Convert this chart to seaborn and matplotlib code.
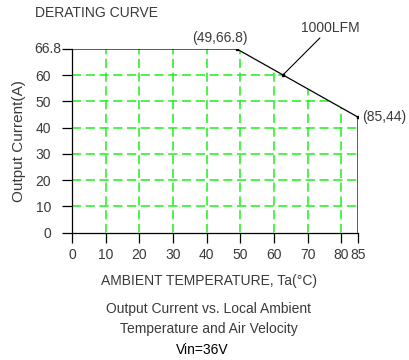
import numpy as np
import matplotlib
matplotlib.use("Agg")
import matplotlib.pyplot as plt
import seaborn as sns
from matplotlib.patches import Polygon

# --- data ---
temps = [0, 49, 85, 85]
currents = [66.8, 66.8, 44, 0]
x_ticks = [0, 10, 20, 30, 40, 50, 60, 70, 80, 85]
y_ticks = [0, 10, 20, 30, 40, 50, 60, 66.8]
grid_x = [10, 20, 30, 40, 50, 60, 70, 80]
grid_y = [10, 20, 30, 40, 50, 60]
airflow_label = "1000LFM"
airflow_temp = 62.7  # where the 1000LFM leader meets the curve

sns.set_style("ticks")
plt.rcParams['font.family'] = ['Liberation Sans', 'DejaVu Sans']

text_gray = "#3a3a3a"
fs = 10


# the chart stretches the band above 60 A (66.8 sits where 70 would be)
def fwd(y):
    y = np.asarray(y, dtype=float)
    return np.where(y <= 60, y, 60 + (y - 60) * 10 / 6.8)


def inv(y):
    y = np.asarray(y, dtype=float)
    return np.where(y <= 60, y, 60 + (y - 60) * 6.8 / 10)


fig = plt.figure(figsize=(4.09, 3.6), dpi=100)
ax = fig.add_axes([72 / 409, 1 - 232.5 / 360, 286 / 409, 183.5 / 360])
ax.set_yscale('function', functions=(fwd, inv))

# derating curve
sns.lineplot(x=temps, y=currents, sort=False, estimator=None, color="black",
             linewidth=0.9, ax=ax, zorder=3)

# green dashed grid, kept under the curve only
area = Polygon(list(zip([0] + temps, [0] + currents)), closed=True,
               transform=ax.transData, facecolor="none", edgecolor="none")
ax.add_patch(area)
vl = ax.vlines(grid_x, 0, 66.8, colors="#1cf01c", linestyles=(0, (6, 3)), linewidth=1.1, zorder=2)
hl = ax.hlines(grid_y, 0, 85, colors="#1cf01c", linestyles=(0, (6, 3)), linewidth=1.1, zorder=2)
vl.set_clip_path(area)
hl.set_clip_path(area)

# point on the slope where the airflow label points
ys0, ys1 = fwd(66.8), fwd(44)
pt_y = float(inv(ys0 + (ys1 - ys0) * (airflow_temp - 49) / 36))
ax.plot([49, airflow_temp, 85], [66.8, pt_y, 44], "s", color="black", markersize=2, zorder=4)

ax.annotate(airflow_label, xy=(airflow_temp, pt_y), xytext=(34, 29), textcoords="offset points",
            ha="center", va="bottom", fontsize=fs, color=text_gray,
            arrowprops=dict(arrowstyle="-", color="black", lw=0.8, shrinkA=0, shrinkB=0))
ax.annotate("(49,66.8)", xy=(49, 66.8), xytext=(-12, 3), textcoords="offset points",
            ha="center", va="bottom", fontsize=fs, color=text_gray)
ax.annotate("(85,44)", xy=(85, 44), xytext=(3, 0), textcoords="offset points",
            ha="left", va="center", fontsize=fs, color=text_gray)

ax.set_xlim(0, 85)
ax.set_ylim(0, 66.8)
ax.set_xticks(x_ticks)
ax.set_xticklabels([str(t) for t in x_ticks])
ax.set_yticks(y_ticks)
# the top label sits right against its tick in the original
ax.set_yticklabels(["0", "10", "20", "30", "40", "50", "60", ""])
ax.annotate("66.8", xy=(0, 66.8), xytext=(-8, 0), textcoords="offset points",
            ha="right", va="center", fontsize=fs, color=text_gray, annotation_clip=False)
ax.tick_params(direction="out", length=7, width=0.9, color="black",
               labelsize=fs, labelcolor=text_gray)
ax.tick_params(axis="y", pad=8)
ax.tick_params(axis="x", pad=4)

for side in ["top", "right"]:
    ax.spines[side].set_visible(False)
for side in ["left", "bottom"]:
    ax.spines[side].set_linewidth(0.9)
    ax.spines[side].set_color("black")

ax.set_ylabel("Output Current(A)", fontsize=11, color=text_gray, labelpad=7)
ax.set_xlabel("")

fig.text(35 / 409, 1 - 13 / 360, "DERATING CURVE", fontsize=fs, color=text_gray,
         ha="left", va="center")
fig.text(209 / 409, 1 - 281 / 360, "AMBIENT TEMPERATURE, Ta(°C)", fontsize=fs, color=text_gray,
         ha="center", va="center")
fig.text(209 / 409, 1 - 309 / 360, "Output Current vs. Local Ambient", fontsize=fs, color=text_gray,
         ha="center", va="center")
fig.text(209 / 409, 1 - 329.5 / 360, "Temperature and Air Velocity", fontsize=fs, color=text_gray,
         ha="center", va="center")
fig.text(202 / 409, 1 - 350 / 360, "Vin=36V", fontsize=fs, color="black",
         ha="center", va="center")

fig.savefig("out.png", dpi=100)
